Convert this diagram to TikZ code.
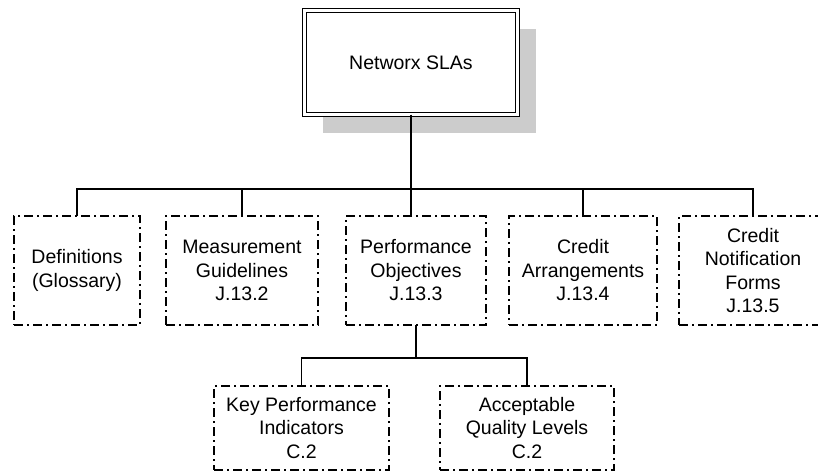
\documentclass[tikz,border=0pt]{standalone}
\usepackage{fontspec}
\setmainfont{Liberation Sans}
\begin{document}
\begin{tikzpicture}[x=1pt,y=-1pt,
  every node/.style={outer sep=0pt, inner sep=0pt, align=center, font=\fontsize{19.5}{23.5}\selectfont},
  topbox/.style={draw, line width=1pt, double, double distance=3pt, minimum width=213pt, minimum height=104pt},
  dashbox/.style={draw, line width=1.8pt, dash pattern=on 9pt off 4pt on 2pt off 4pt, minimum height=109pt},
  lowbox/.style={dashbox, minimum height=84pt},
  conn/.style={line width=1.2pt},
  thickconn/.style={line width=2.5pt}]
\useasboundingbox (0,0) rectangle (818,474);
\clip (0,0) rectangle (818,474);
\definecolor{shadowgray}{RGB}{204,204,204}
% top node
\node[topbox, draw=none] (topghost) at (411,62.5) {};
\fill[shadowgray] ([shift={(18,18)}]topghost.north west) rectangle ([shift={(18,18)}]topghost.south east);
\node[topbox, fill=white] (top) at (411,62.5) {Networx SLAs};
% level 2
\node[dashbox, minimum width=126pt] (def) at (77,270.5) {Definitions\\(Glossary)};
\node[dashbox, minimum width=152pt] (meas) at (242,270.5) {Measurement\\Guidelines\\J.13.2};
\node[dashbox, minimum width=140pt] (perf) at (416,270.5) {Performance\\Objectives\\J.13.3};
\node[dashbox, minimum width=148pt] (ca) at (583,270.5) {Credit\\Arrangements\\J.13.4};
\node[dashbox, minimum width=170pt, text width=148pt] (cnf) at (764,270.5) {\hspace*{-22pt}\parbox{148pt}{\centering Credit\\Notification\\Forms\\J.13.5}};
% level 3
\node[lowbox, minimum width=175pt] (kpi) at (301.5,428) {Key Performance\\Indicators\\C.2};
\node[lowbox, minimum width=174pt] (aql) at (527,428) {Acceptable\\Quality Levels\\C.2};
% connectors
\coordinate (bus) at (0,189);
\coordinate (bustwo) at (0,358);
\coordinate (cnftop) at ([xshift=-11pt]cnf.north);
\draw[conn] (def.north) -- (def.north |- bus) -- (cnftop |- bus) -- (cnftop);
\draw[conn] (meas.north) -- (meas.north |- bus);
\draw[conn] (ca.north) -- (ca.north |- bus);
\draw[thickconn] (top.south) -- (top.south |- perf.north);
\draw[conn] (perf.south) -- (perf.south |- bustwo);
\draw[conn] (kpi.north) -- (kpi.north |- bustwo) -- (aql.north |- bustwo) -- (aql.north);
\end{tikzpicture}
\end{document}
